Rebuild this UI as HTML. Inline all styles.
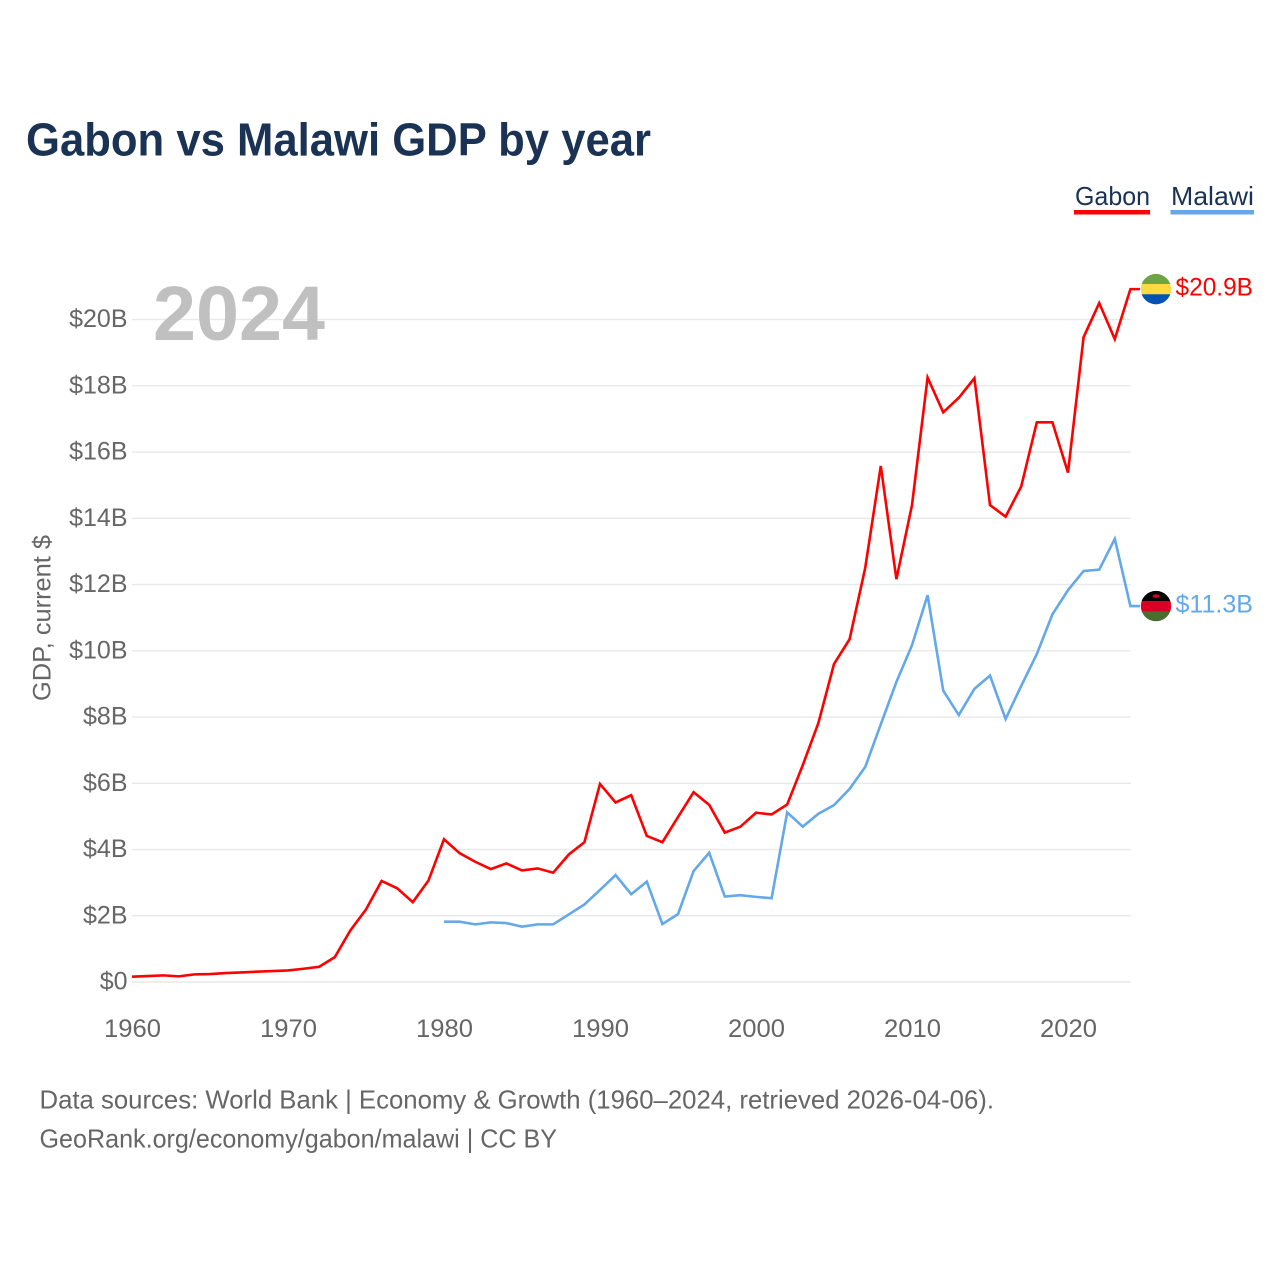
<!DOCTYPE html>
<html lang="en">
<head>
<meta charset="utf-8">
<title>Gabon vs Malawi GDP by year</title>
<style>
  html, body { margin: 0; padding: 0; background: #ffffff; }
  #chart { display: block; width: 1280px; height: 1280px; font-family: "Liberation Sans", sans-serif; }
  .tick { font-size: 25px; fill: #666666; }
</style>
</head>
<body>
<svg id="chart" xmlns="http://www.w3.org/2000/svg" width="1280" height="1280" viewBox="0 0 1280 1280">
  <rect x="0" y="0" width="1280" height="1280" fill="#ffffff"/>
  <text x="26" y="155.5" font-size="46" font-weight="700" fill="#1a3355" textLength="625" lengthAdjust="spacingAndGlyphs">Gabon vs Malawi GDP by year</text>

  <g>
    <g>
      <text x="1075" y="205" font-size="26" fill="#1a3355" textLength="75" lengthAdjust="spacingAndGlyphs">Gabon</text>
      <rect x="1074" y="210" width="76" height="4.5" fill="#ff0000"/>
    </g>
    <g>
      <text x="1171" y="205" font-size="26" fill="#1a3355" textLength="83" lengthAdjust="spacingAndGlyphs">Malawi</text>
      <rect x="1170.5" y="210" width="83.5" height="4.5" fill="#63a8eb"/>
    </g>
  </g>

  <g id="grid"></g>
  <g id="yTicks"></g>
  <g id="xTicks"></g>

  <text transform="translate(50.5,701) rotate(-90)" font-size="25" fill="#666666" textLength="166" lengthAdjust="spacingAndGlyphs">GDP, current $</text>
  <text x="153" y="340" font-size="77" font-weight="700" fill="#c0c0c0" textLength="172" lengthAdjust="spacingAndGlyphs">2024</text>

  <g id="series"></g>
  <g id="ends"></g>

  <text x="39.5" y="1108.5" font-size="26" fill="#666666" textLength="954.5" lengthAdjust="spacingAndGlyphs">Data sources: World Bank | Economy &amp; Growth (1960–2024, retrieved 2026-04-06).</text>
  <text x="39.5" y="1147.5" font-size="26" fill="#666666" textLength="517.5" lengthAdjust="spacingAndGlyphs">GeoRank.org/economy/gabon/malawi | CC BY</text>
</svg>

<script>
const years = [1960,1961,1962,1963,1964,1965,1966,1967,1968,1969,1970,1971,1972,1973,1974,1975,1976,1977,1978,1979,1980,1981,1982,1983,1984,1985,1986,1987,1988,1989,1990,1991,1992,1993,1994,1995,1996,1997,1998,1999,2000,2001,2002,2003,2004,2005,2006,2007,2008,2009,2010,2011,2012,2013,2014,2015,2016,2017,2018,2019,2020,2021,2022,2023,2024];
const gabonValues = [0.16,0.18,0.2,0.17,0.23,0.24,0.27,0.29,0.31,0.33,0.35,0.4,0.46,0.75,1.56,2.19,3.05,2.83,2.41,3.06,4.31,3.89,3.63,3.41,3.58,3.37,3.43,3.3,3.85,4.22,5.98,5.42,5.64,4.41,4.22,4.98,5.73,5.35,4.51,4.69,5.11,5.06,5.36,6.55,7.82,9.6,10.35,12.5,15.58,12.16,14.4,18.25,17.2,17.64,18.23,14.4,14.05,14.96,16.9,16.9,15.38,19.47,20.5,19.41,20.92];
const malawiValues = [null,null,null,null,null,null,null,null,null,null,null,null,null,null,null,null,null,null,null,null,1.82,1.82,1.74,1.8,1.78,1.67,1.74,1.74,2.04,2.34,2.78,3.23,2.65,3.03,1.75,2.05,3.35,3.9,2.58,2.62,2.57,2.53,5.12,4.69,5.08,5.34,5.83,6.49,7.78,9.06,10.17,11.68,8.8,8.06,8.85,9.25,7.94,8.94,9.9,11.1,11.83,12.41,12.45,13.38,11.35];
const yTickValues = [0,2,4,6,8,10,12,14,16,18,20];
const yTickLabels = ["$0","$2B","$4B","$6B","$8B","$10B","$12B","$14B","$16B","$18B","$20B"];
const xTickValues = [1960,1970,1980,1990,2000,2010,2020];
const xTickLabels = ["1960","1970","1980","1990","2000","2010","2020"];
const gabonEndLabel = "$20.9B";
const malawiEndLabel = "$11.3B";

const SVG_NS = "http://www.w3.org/2000/svg";
function xScale(year) { return 132 + (year - 1960) * 15.6; }
function yScale(value) { return 982 - value * 33.12; }
function make(tag) { return document.createElementNS(SVG_NS, tag); }
function set(el, props) { for (const k in props) el.setAttribute(k, props[k]); return el; }
function linePath(values, endStubX) {
  let d = "";
  let last = null;
  values.forEach(function (v, i) {
    if (v === null) return;
    d += (d ? "L" : "M") + xScale(years[i]).toFixed(2) + " " + yScale(v).toFixed(2);
    last = v;
  });
  return d + "L" + endStubX + " " + yScale(last).toFixed(2);
}

const grid = document.getElementById("grid");
const yTicks = document.getElementById("yTicks");
const xTicks = document.getElementById("xTicks");
const series = document.getElementById("series");
const ends = document.getElementById("ends");

yTickValues.forEach(function (v, i) {
  const line = make("line");
  
  
  set(line, { x1: xScale(1960), x2: 1131, y1: yScale(v), y2: yScale(v), stroke: "#e9e9e9", "stroke-width": 1.4 });
  grid.appendChild(line);

  const label = make("text");
  
  
  set(label, { x: 127.5, y: yScale(v) + 7.5, "text-anchor": "end", class: "tick" });
  label.textContent = yTickLabels[i];
  yTicks.appendChild(label);
});

xTickValues.forEach(function (year, i) {
  const label = make("text");
  
  
  set(label, { x: xScale(year) + 0.5, y: 1037, "text-anchor": "middle", class: "tick", textLength: 57, lengthAdjust: "spacingAndGlyphs" });
  label.textContent = xTickLabels[i];
  xTicks.appendChild(label);
});

const malawiLine = make("path");


set(malawiLine, { d: linePath(malawiValues, 1140), fill: "none", stroke: "#63a8eb", "stroke-width": 2.6 });
series.appendChild(malawiLine);

const gabonLine = make("path");


set(gabonLine, { d: linePath(gabonValues, 1140), fill: "none", stroke: "#ff0000", "stroke-width": 2.6 });
series.appendChild(gabonLine);

function stripeFlag(group, clipId, cy, colors) {
  const defs = make("defs");
  const clip = make("clipPath");
  set(clip, { id: clipId });
  const clipCircle = make("circle");
  set(clipCircle, { cx: 1156, cy: cy, r: 15.2 });
  clip.appendChild(clipCircle);
  defs.appendChild(clip);
  group.appendChild(defs);
  const inner = make("g");
  set(inner, { "clip-path": "url(#" + clipId + ")" });
  colors.forEach(function (color, i) {
    const stripe = make("rect");
    set(stripe, { x: 1140, y: cy - 15.4 + i * 10.27, width: 32, height: 10.6, fill: color });
    inner.appendChild(stripe);
  });
  group.appendChild(inner);
  return inner;
}

const gabonY = yScale(gabonValues[gabonValues.length - 1]);
const malawiY = yScale(malawiValues[malawiValues.length - 1]);

const gabonFlag = make("g");


stripeFlag(gabonFlag, "clipGabon", gabonY, ["#6da544", "#ffda44", "#0052b4"]);
ends.appendChild(gabonFlag);

const malawiFlag = make("g");


const malawiInner = stripeFlag(malawiFlag, "clipMalawi", malawiY, ["#000000", "#d80027", "#496e2d"]);
const sun = make("ellipse");
set(sun, { cx: 1156, cy: malawiY - 10, rx: 3.5, ry: 1.8, fill: "#d80027" });
malawiInner.appendChild(sun);
ends.appendChild(malawiFlag);

const gabonValueLabel = make("text");


set(gabonValueLabel, { x: 1175.5, y: gabonY + 6.5, "font-size": 25, fill: "#ff0000", textLength: 77.5, lengthAdjust: "spacingAndGlyphs" });
gabonValueLabel.textContent = gabonEndLabel;
ends.appendChild(gabonValueLabel);

const malawiValueLabel = make("text");


set(malawiValueLabel, { x: 1175.5, y: malawiY + 6.5, "font-size": 25, fill: "#63a8eb", textLength: 77.5, lengthAdjust: "spacingAndGlyphs" });
malawiValueLabel.textContent = malawiEndLabel;
ends.appendChild(malawiValueLabel);
</script>
</body>
</html>
